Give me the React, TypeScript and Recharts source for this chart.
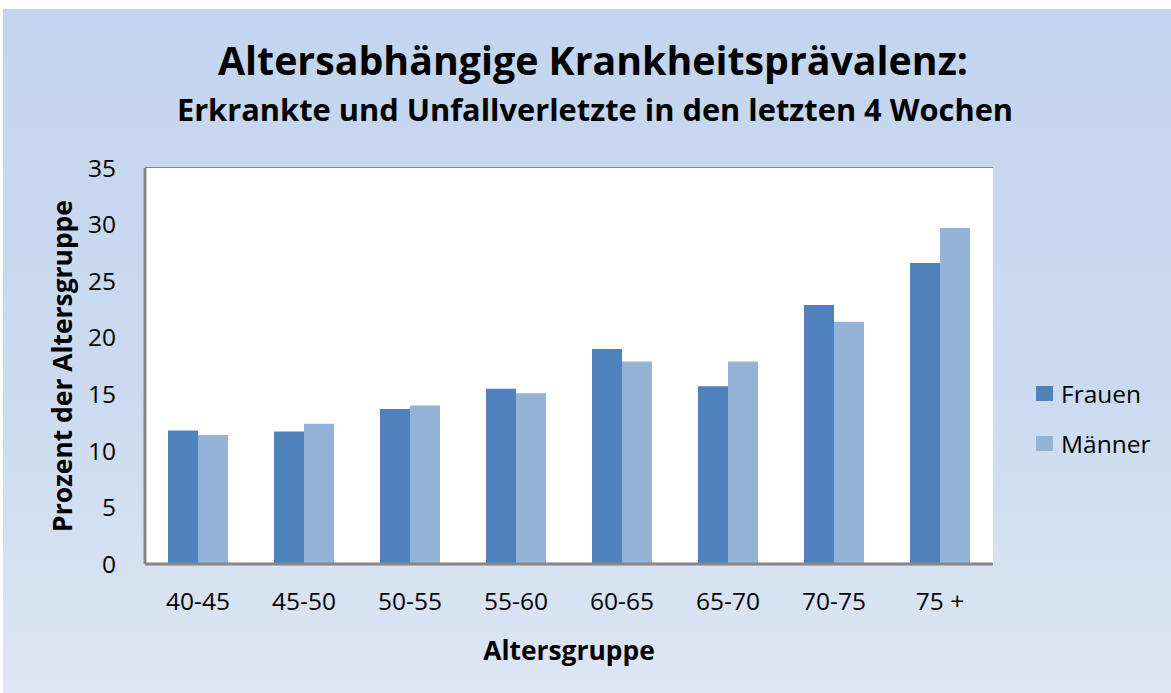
import { BarChart, Bar, XAxis, YAxis, CartesianGrid } from "recharts";

const groups = ["40-45", "45-50", "50-55", "55-60", "60-65", "65-70", "70-75", "75 +"];
const frauen = [11.8, 11.7, 13.7, 15.5, 19.0, 15.7, 22.9, 26.6];
const maenner = [11.4, 12.4, 14.0, 15.1, 17.9, 17.9, 21.4, 29.7];
const yTicks = [0, 5, 10, 15, 20, 25, 30, 35];
const seriesNames = ["Frauen", "Männer"];
const seriesColors = ["#4f81bd", "#95b3d7"];

const FONT = "'Open Sans', Lato, sans-serif";
const W = 1168;
const H = 684;

export default function App() {
  const data = groups.map((g, i) => ({ group: g, Frauen: frauen[i], Männer: maenner[i] }));
  const tick = { fill: "#000", fontSize: 24.5, fontFamily: FONT };
  return (
    <div
      style={{
        position: "absolute", left: 3, top: 9, width: W, height: H,
        background: "linear-gradient(180deg, #c3d5ee 0%, #cbdaf0 55%, #dde6f4 100%)",
        fontFamily: FONT,
      }}
    >
      <div style={{ position: "absolute", left: 0, width: 1180, top: 24, textAlign: "center", fontSize: 39.3, fontWeight: 700, lineHeight: "54px", whiteSpace: "nowrap" }}>
        Altersabhängige Krankheitsprävalenz:
      </div>
      <div style={{ position: "absolute", left: 0, width: 1184, top: 80, textAlign: "center", fontSize: 30.8, fontWeight: 700, lineHeight: "40px", whiteSpace: "nowrap" }}>
        Erkrankte und Unfallverletzte in den letzten 4 Wochen
      </div>
      <BarChart
        width={W}
        height={H}
        data={data}
        margin={{ top: 159, right: 178, bottom: 69, left: 82 }}
        barCategoryGap="21.7%"
        barGap={0}
      >
        <rect x={142} y={159} width={848} height={396} fill="#fff" />
        <CartesianGrid vertical={false} stroke="#868686" strokeWidth={2} />
        <XAxis
          dataKey="group"
          height={60}
          tick={tick}
          tickLine={false}
          tickSize={0}
          tickMargin={29}
          axisLine={{ stroke: "#868686", strokeWidth: 3 }}
        />
        <YAxis
          width={60}
          domain={[0, 35]}
          ticks={yTicks}
          tick={tick}
          tickLine={false}
          tickSize={0}
          tickMargin={29}
          axisLine={{ stroke: "#868686", strokeWidth: 3 }}
        />
        {seriesNames.map((name, i) => (
          <Bar key={name} dataKey={name} fill={seriesColors[i]} isAnimationActive={false} />
        ))}
      </BarChart>
      <div
        style={{
          position: "absolute", left: 59, top: 357, transform: "translate(-50%, -50%) rotate(-90deg)",
          whiteSpace: "nowrap", fontSize: 26.4, fontWeight: 700,
        }}
      >
        Prozent der Altersgruppe
      </div>
      <div
        style={{
          position: "absolute", left: 566, top: 641, transform: "translate(-50%, -50%)",
          whiteSpace: "nowrap", fontSize: 26.4, fontWeight: 700,
        }}
      >
        Altersgruppe
      </div>
      {seriesNames.map((name, i) => (
        <div
          key={name}
          style={{
            position: "absolute", left: 1033, top: 384 - 16 + i * 50, height: 32,
            display: "flex", alignItems: "center", fontSize: 24.5, whiteSpace: "nowrap",
          }}
        >
          <span style={{ display: "inline-block", width: 17, height: 15, background: seriesColors[i], marginRight: 8 }} />
          {name}
        </div>
      ))}
    </div>
  );
}
